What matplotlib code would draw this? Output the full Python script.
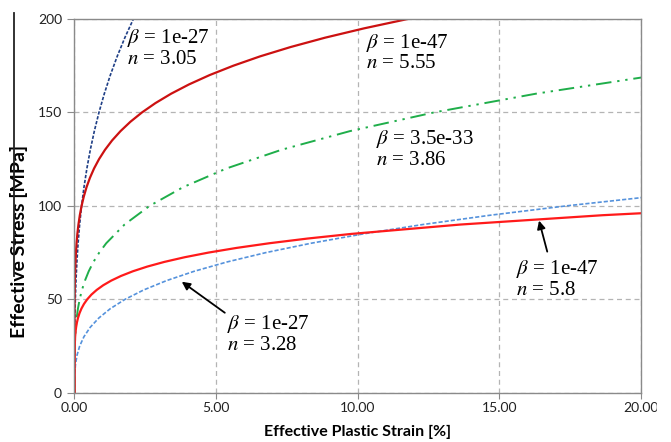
import matplotlib
matplotlib.use("Agg")
import matplotlib.pyplot as plt
from matplotlib.lines import Line2D
from matplotlib.patches import Rectangle

plt.rcParams["font.family"] = ["Lato", "DejaVu Sans"]
plt.rcParams["mathtext.fontset"] = "stix"

# Effective stress levels [MPa] and plastic strain [%]
stress_a = [0, 10, 20, 30, 40, 50, 60, 70, 80, 90, 100, 110, 120, 130, 140, 150, 160, 170, 180, 190, 200]
strain_a = [0, 0.0002, 0.0019, 0.0064, 0.0154, 0.030, 0.053, 0.085, 0.127, 0.182, 0.251, 0.336,
            0.438, 0.559, 0.701, 0.865, 1.053, 1.267, 1.509, 1.779, 2.080]

stress_b = [0, 20, 40, 50, 60, 65, 70, 75, 80, 85, 90, 95, 100, 105, 110, 115, 120, 125, 130, 135,
            140, 145, 150, 155, 160, 165, 170, 175, 180, 185, 190, 195, 200]
strain_b = [0, 0.00003, 0.0016, 0.0054, 0.0148, 0.0230, 0.035, 0.0509, 0.073, 0.1019, 0.140, 0.189,
            0.251, 0.329, 0.426, 0.546, 0.691, 0.867, 1.078, 1.328, 1.626, 1.975, 2.384, 2.860,
            3.411, 4.046, 4.775, 5.610, 6.555, 7.634, 8.851, 10.23, 11.77]

stress_c = [0, 10, 20, 25, 30, 35, 40, 45, 50, 55, 60, 65, 70, 75, 80, 90, 100, 110, 120, 130,
            140, 150, 160, 170]
strain_c = [0, 0.0004, 0.0053, 0.0126, 0.0254, 0.0462, 0.0773, 0.1218, 0.183, 0.264, 0.370, 0.503,
            0.670, 0.875, 1.122, 1.768, 2.655, 3.836, 5.366, 7.309, 9.730, 12.70, 16.29, 20.59]

stress_d = [0, 20, 25, 30, 32.5, 35, 37.5, 40, 42.5, 45, 47.5, 50, 52.5, 55, 57.5, 60, 62.5, 65,
            67.5, 70, 72.5, 75, 77.5, 80, 82.5, 85, 90, 95, 100]
strain_d = [0, 0.0022, 0.0081, 0.0233, 0.0371, 0.057, 0.085, 0.124, 0.176, 0.245, 0.335, 0.451,
            0.598, 0.784, 1.014, 1.298, 1.645, 2.064, 2.570, 3.173, 3.890, 4.735, 5.727, 6.886,
            8.230, 9.786, 13.63, 18.66, 25.12]

stress_e = [0, 5, 10, 15, 20, 25, 30, 35, 40, 45, 50, 55, 60, 65, 70, 75, 80, 85, 90, 95, 100, 105]
strain_e = [0, 0.0009, 0.0091, 0.0345, 0.0886, 0.184, 0.335, 0.555, 0.861, 1.267, 1.789, 2.445,
            3.253, 4.230, 5.394, 6.765, 8.360, 10.20, 12.30, 14.69, 17.38, 20.39]

x_ticks = [0, 5, 10, 15, 20]
y_ticks = [0, 50, 100, 150, 200]

fig = plt.figure(figsize=(6.71, 4.42), dpi=100)
ax = fig.add_axes([0.111, 0.1115, 0.8438, 0.8455])

ax.plot(strain_a, stress_a, color="#1f3f86", lw=1.2, dashes=(2, 1))
ax.plot(strain_e, stress_e, color="#5592dc", lw=1.2, dashes=(2.5, 1.2))
ax.plot(strain_c, stress_c, color="#1fae4a", lw=1.4, dashes=(8, 3, 1.2, 3, 1.2, 3))
ax.plot(strain_b, stress_b, color="#cc1111", lw=1.6)
ax.plot(strain_d, stress_d, color="#ff1a1a", lw=1.6)

ax.set_xlim(0, 20)
ax.set_ylim(0, 200)
ax.set_xticks(x_ticks)
ax.set_yticks(y_ticks)
ax.set_xticklabels([f"{v:.2f}" for v in x_ticks])
ax.grid(True, color="#b4b4b4", ls=(0, (4, 3)), lw=0.9)
ax.set_axisbelow(True)
for s in ax.spines.values():
    s.set_color("#8a8a8a")
    s.set_linewidth(1.0)
ax.tick_params(direction="out", length=4, color="#8a8a8a", labelsize=10, labelcolor="#222222", pad=3)
ax.tick_params(axis="y", length=5, pad=4)

ax.set_xlabel("Effective Plastic Strain [%]", fontsize=11.5, fontweight="bold", va="top")
ax.xaxis.set_label_coords(0.5, -0.086)
ax.set_ylabel("Effective Stress [MPa]", fontsize=14, fontweight="bold")
ax.yaxis.set_label_coords(-0.082, 0.405)

tkw = dict(fontsize=15, family="Liberation Serif", linespacing=1.05, va="center", ha="left")
ax.text(1.85, 184.5, "$\\beta$ = 1e-27\n$n$ = 3.05", **tkw)
ax.text(10.3, 182, "$\\beta$ = 1e-47\n$n$ = 5.55", **tkw)
ax.text(10.65, 130.5, "$\\beta$ = 3.5e-33\n$n$ = 3.86", **tkw)
ax.text(5.4, 31.5, "$\\beta$ = 1e-27\n$n$ = 3.28", **tkw)
ax.text(15.6, 61, "$\\beta$ = 1e-47\n$n$ = 5.8", **tkw)

akw = dict(arrowstyle="-|>", color="black", lw=1.3, mutation_scale=12, shrinkA=0, shrinkB=0)
ax.annotate("", xy=(3.79, 59.4), xytext=(5.31, 42.8), arrowprops=akw)
ax.annotate("", xy=(16.41, 92.1), xytext=(16.70, 75.5), arrowprops=akw)

# stray frame line at the left edge of the original image
fig.add_artist(Line2D([14 / 671, 14 / 671], [1 - 13 / 442, 1 - 276 / 442], color="#222222", lw=1.3))
# original image is cut off at the right
fig.add_artist(Rectangle((657 / 671, 0), 14 / 671, 1, color="white", zorder=10))

fig.savefig("out.png", dpi=100)
